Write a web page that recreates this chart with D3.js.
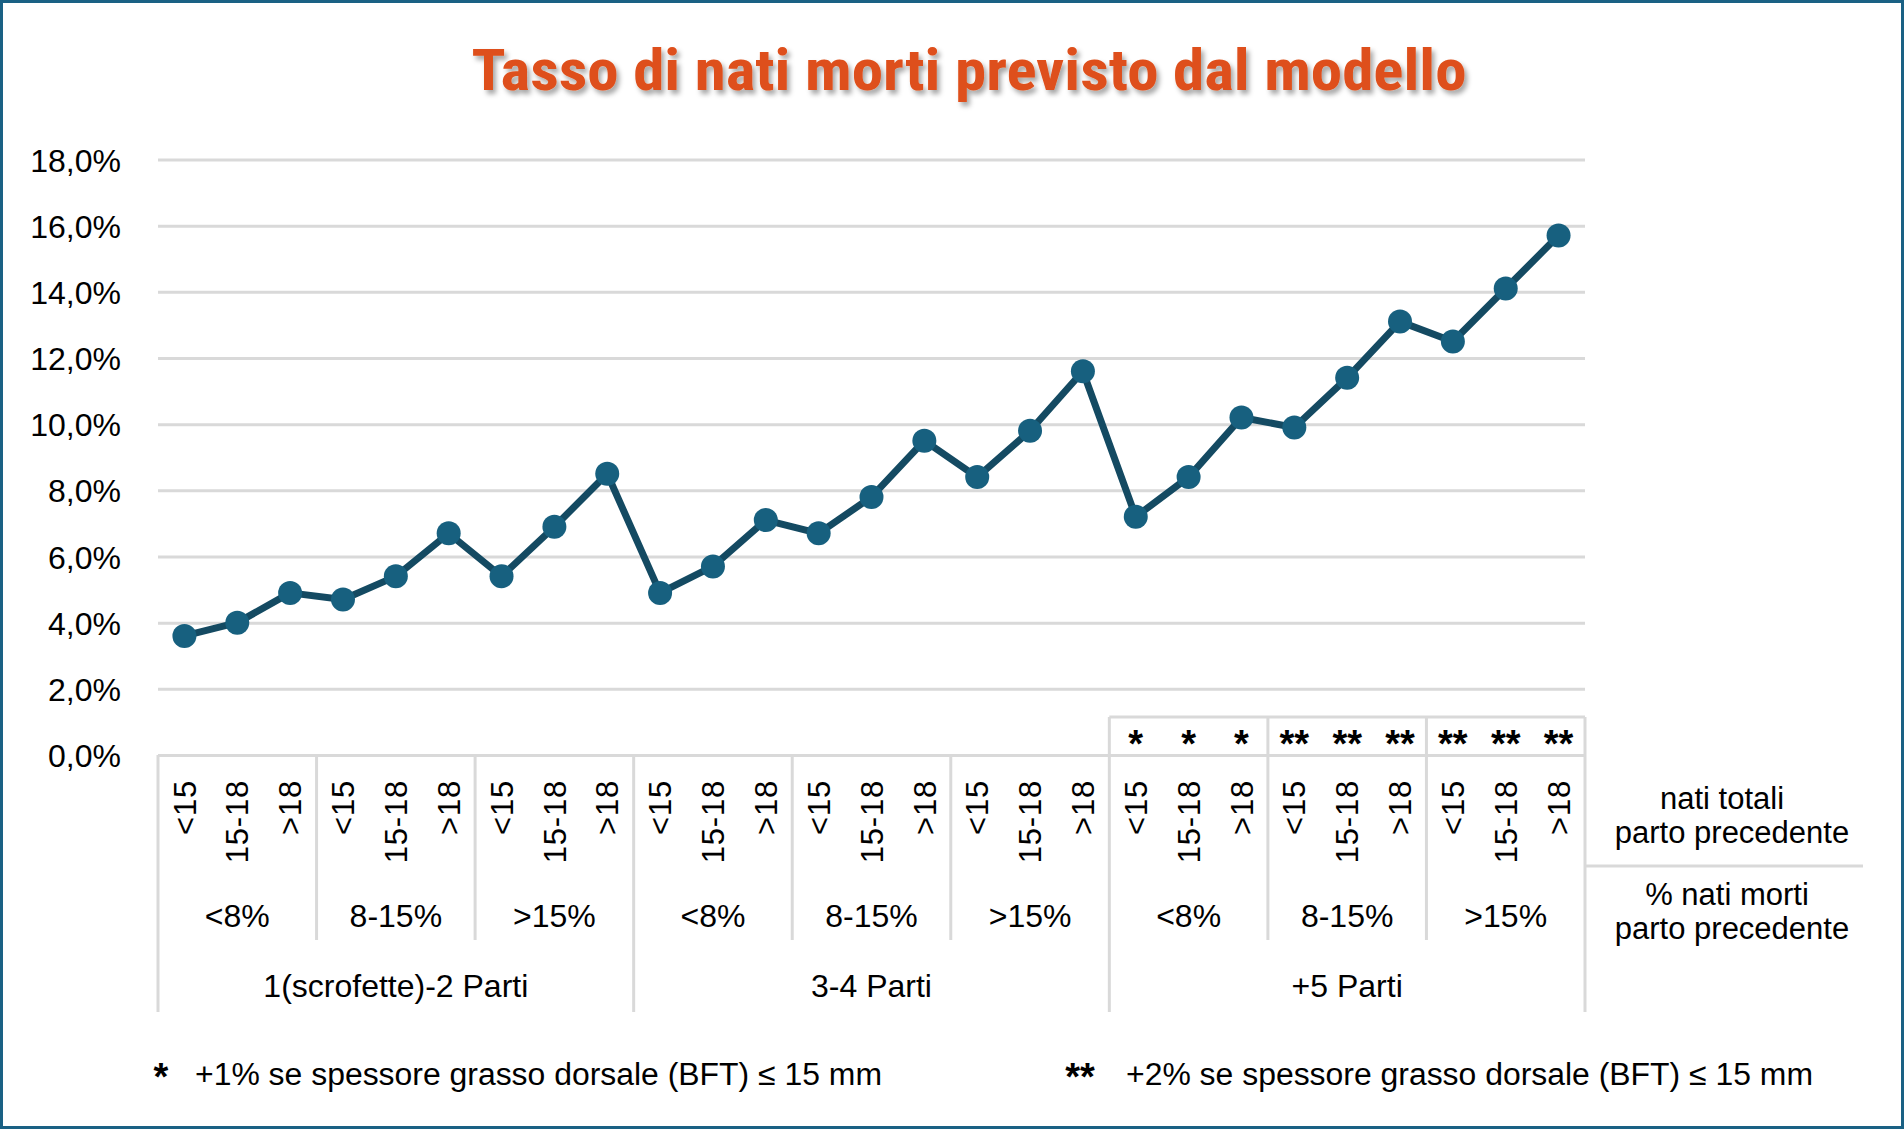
<!DOCTYPE html>
<html>
<head>
<meta charset="utf-8">
<script src="https://cdn.jsdelivr.net/npm/d3@7"></script>
<style>
  html, body { margin: 0; padding: 0; background: #ffffff; }
  svg { display: block; }
  text { font-family: "Liberation Sans", Arial, sans-serif; fill: #000; }
</style>
</head>
<body>
<svg id="chart" width="1904" height="1129"></svg>
<script>
// ---- data ----
const title = "Tasso di nati morti previsto dal modello";
const parityGroups = ["1(scrofette)-2 Parti", "3-4 Parti", "+5 Parti"];
const stillbornGroups = ["<8%", "8-15%", ">15%"];
const totalBornGroups = ["<15", "15-18", ">18"];
const values = [3.6, 4.0, 4.9, 4.7, 5.4, 6.7, 5.4, 6.9, 8.5,
                4.9, 5.7, 7.1, 6.7, 7.8, 9.5, 8.4, 9.8, 11.6,
                7.2, 8.4, 10.2, 9.9, 11.4, 13.1, 12.5, 14.1, 15.7];
const starMarks = ["", "", "", "", "", "", "", "", "",
                   "", "", "", "", "", "", "", "", "",
                   "*", "*", "*", "**", "**", "**", "**", "**", "**"];
const yTicks = [0, 2, 4, 6, 8, 10, 12, 14, 16, 18];
const rightLabelsTop = ["nati totali", "parto precedente"];
const rightLabelsBottom = ["% nati morti", "parto precedente"];
const footnotes = [
  { mark: "*", text: "+1% se spessore grasso dorsale (BFT) ≤ 15 mm" },
  { mark: "**", text: "+2% se spessore grasso dorsale (BFT) ≤ 15 mm" }
];

// ---- build categories ----
const categories = [];
parityGroups.forEach((p, pi) => stillbornGroups.forEach((s, si) => totalBornGroups.forEach((t, ti) => {
  categories.push({ key: pi + "|" + si + "|" + ti, parity: p, still: s, total: t });
})));
const data = categories.map((c, i) => ({ ...c, value: values[i], star: starMarks[i] }));

// ---- layout ----
const svg = d3.select("#chart");
const W = 1904, H = 1129;
const plotL = 158, plotR = 1585, yTop = 159.5, yBase = 755;
const gridColor = "#d9d9d9";

const x = d3.scaleBand().domain(data.map(d => d.key)).range([plotL, plotR]).padding(0);
const y = d3.scaleLinear().domain([0, 18]).range([yBase, yTop]);
const fmt = v => d3.format(".1f")(v).replace(".", ",") + "%";

// defs: title shadow
const defs = svg.append("defs");
const f = defs.append("filter").attr("id", "tshadow").attr("x", "-5%").attr("y", "-30%").attr("width", "110%").attr("height", "160%");
f.append("feDropShadow").attr("dx", 3).attr("dy", 4).attr("stdDeviation", 2.5).attr("flood-color", "#000").attr("flood-opacity", 0.35);

// border
svg.append("rect").attr("x", 1.5).attr("y", 1.5).attr("width", W - 3).attr("height", H - 3)
  .attr("fill", "none").attr("stroke", "#1a6184").attr("stroke-width", 3);

// title
svg.append("text").text(title)
  .attr("x", 969).attr("y", 90).attr("text-anchor", "middle")
  .attr("textLength", 995).attr("lengthAdjust", "spacingAndGlyphs")
  .style("font-family", "'Liberation Sans Narrow','Arial Narrow','Roboto Condensed','Liberation Sans',sans-serif")
  .style("font-weight", "bold").style("font-size", "57px").style("fill", "#de4f1a")
  .attr("filter", "url(#tshadow)");

// y axis with gridlines
const yAxis = d3.axisLeft(y).tickValues(yTicks).tickFormat(fmt).tickSize(-(plotR - plotL)).tickPadding(37);
const gy = svg.append("g").attr("transform", `translate(${plotL},0)`).call(yAxis);
gy.select(".domain").remove();
gy.selectAll(".tick line").attr("stroke", gridColor).attr("stroke-width", 3);
gy.selectAll(".tick text").style("font-size", "32px").style("font-family", "'Liberation Sans', Arial, sans-serif").attr("fill", "#000").attr("dy", "0.36em");

// table lines below axis
const lines = svg.append("g").attr("stroke", gridColor).attr("stroke-width", 3).attr("fill", "none");
const keys = data.map(d => d.key);
const bw = x.bandwidth();
data.forEach((d, i) => {
  if (i % 3 === 0) {
    const xx = x(d.key);
    const bottom = (i % 9 === 0) ? 1012 : 940;
    lines.append("line").attr("x1", xx).attr("x2", xx).attr("y1", yBase).attr("y2", bottom);
  }
});
lines.append("line").attr("x1", plotR).attr("x2", plotR).attr("y1", 717).attr("y2", 1012);
// star box
const starIdx = data.map((d, i) => d.star ? i : -1).filter(i => i >= 0);
const sx0 = x(keys[starIdx[0]]);
lines.append("line").attr("x1", sx0).attr("x2", plotR).attr("y1", 717).attr("y2", 717);
starIdx.forEach(i => {
  if (i % 3 === 0) lines.append("line").attr("x1", x(keys[i])).attr("x2", x(keys[i])).attr("y1", 717).attr("y2", yBase);
});
// right separator
lines.append("line").attr("x1", plotR).attr("x2", 1863).attr("y1", 866).attr("y2", 866);

// star marks
svg.append("g").selectAll("text").data(data.filter(d => d.star)).join("text")
  .attr("x", d => x(d.key) + bw / 2).attr("y", 757)
  .attr("text-anchor", "middle").style("font-size", "38px").style("font-weight", "bold")
  .text(d => d.star);

// rotated level-1 labels
svg.append("g").selectAll("text").data(data).join("text")
  .attr("transform", d => `translate(${x(d.key) + bw / 2},780) rotate(-90)`)
  .attr("text-anchor", "end").attr("dy", "0.36em")
  .style("font-size", "31px").style("letter-spacing", "0.8px")
  .text(d => d.total);

// level-2 labels
const l2 = d3.groups(data, d => d.key.split("|").slice(0, 2).join("|"));
svg.append("g").selectAll("text").data(l2).join("text")
  .attr("x", g => x(g[1][0].key) + bw * g[1].length / 2).attr("y", 927)
  .attr("text-anchor", "middle").style("font-size", "32px")
  .text(g => g[1][0].still);

// level-3 labels
const l3 = d3.groups(data, d => d.parity);
svg.append("g").selectAll("text").data(l3).join("text")
  .attr("x", g => x(g[1][0].key) + bw * g[1].length / 2).attr("y", 997)
  .attr("text-anchor", "middle").style("font-size", "32px")
  .text(g => g[0]);

// right side labels
const rl = svg.append("g").attr("text-anchor", "middle").style("font-size", "31px");
rl.append("text").attr("x", 1722).attr("y", 809).text(rightLabelsTop[0]);
rl.append("text").attr("x", 1732).attr("y", 843).text(rightLabelsTop[1]);
rl.append("text").attr("x", 1727).attr("y", 905).text(rightLabelsBottom[0]);
rl.append("text").attr("x", 1732).attr("y", 939).text(rightLabelsBottom[1]);

// line + markers
const line = d3.line().x(d => x(d.key) + bw / 2).y(d => y(d.value));
svg.append("path").datum(data).attr("d", line)
  .attr("fill", "none").attr("stroke", "#144a62").attr("stroke-width", 7).attr("stroke-linejoin", "round");
svg.append("g").selectAll("circle").data(data).join("circle")
  .attr("cx", d => x(d.key) + bw / 2).attr("cy", d => y(d.value)).attr("r", 12)
  .attr("fill", "#17607f");

// footnotes
const fnPos = [{ mx: 161, tx: 195, len: 687 }, { mx: 1080, tx: 1126, len: 687 }];
footnotes.forEach((fn, i) => {
  svg.append("text").attr("x", fnPos[i].mx).attr("y", 1090).attr("text-anchor", "middle")
    .style("font-size", "38px").style("font-weight", "bold").text(fn.mark);
  svg.append("text").attr("x", fnPos[i].tx).attr("y", 1085)
    .attr("textLength", fnPos[i].len).attr("lengthAdjust", "spacingAndGlyphs")
    .style("font-size", "31px").text(fn.text);
});
</script>
</body>
</html>
